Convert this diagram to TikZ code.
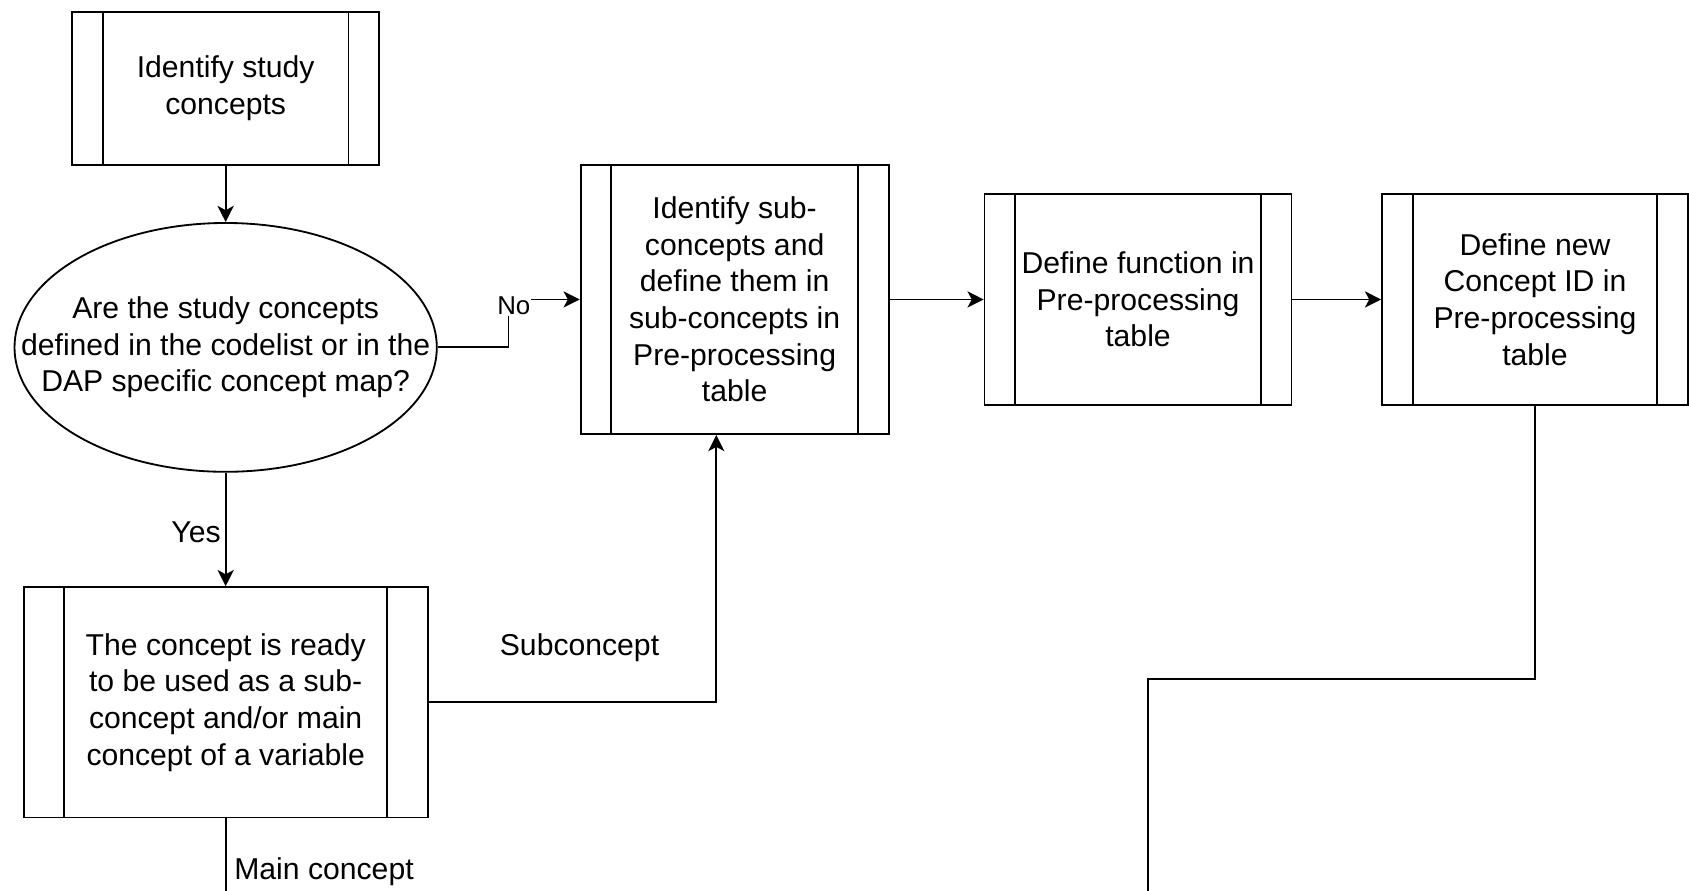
\documentclass[tikz,border=0pt]{standalone}
\usepackage{fontspec}
\setmainfont{Liberation Sans}
\usetikzlibrary{shapes.geometric,arrows.meta,calc}
\begin{document}
\begin{tikzpicture}[x=1pt,y=-1pt,
  every node/.style={font=\fontsize{28}{34}\selectfont},
  ln/.style={line width=1.7pt},
  arr/.style={ln,-{Stealth[length=15pt,width=15pt,inset=4pt]}},
  proc/.style={draw,ln,rectangle,inner sep=0pt,align=center,
    path picture={
      \draw[ln] ($(path picture bounding box.north west)!0.1!(path picture bounding box.north east)$) --
                ($(path picture bounding box.south west)!0.1!(path picture bounding box.south east)$);
      \draw[ln] ($(path picture bounding box.north west)!0.9!(path picture bounding box.north east)$) --
                ($(path picture bounding box.south west)!0.9!(path picture bounding box.south east)$);
    }},
  lbl/.style={inner sep=1pt,fill=white},
  smalllbl/.style={inner sep=1pt,fill=white,font=\fontsize{24}{29}\selectfont}
]
\useasboundingbox (0,0) rectangle (1568,827);

\node[proc,minimum width=285pt,minimum height=142pt] (b1) at (209.5,82) {Identify study\\concepts};
\node[draw,ln,ellipse,minimum width=392pt,minimum height=231pt,inner sep=0pt] (q) at (209.5,322.5) {};
\node[align=center] (qt) at (q.center) {Are the study concepts\\defined in the codelist or in the\\DAP specific concept map?};
\node[proc,minimum width=286pt,minimum height=250pt] (b2) at (682,278) {Identify sub-\\concepts and\\define them in\\sub-concepts in\\Pre-processing\\table};
\node[proc,minimum width=285pt,minimum height=196pt] (b3) at (1056.5,278) {Define function in\\Pre-processing\\table};
\node[proc,minimum width=284pt,minimum height=196pt] (b4) at (1425,278) {Define new\\Concept ID in\\Pre-processing\\table};
\node[proc,minimum width=375pt,minimum height=214pt] (b5) at (209.5,652) {The concept is ready\\to be used as a sub-\\concept and/or main\\concept of a variable};

\coordinate (mEnd) at (209.5,840);
\coordinate (c1) at (1425,630);
\coordinate (c2) at (1066,630);
\coordinate (c3) at (1066,840);

\draw[arr] (b1.south) -- (q.north);
\draw[arr] (q.east) -- (472,322.5) |- (b2.west);
\node[smalllbl] (no) at (477,284) {No};
\draw[arr] (q.south) -- (b5.north);
\node[lbl] (yes) at (182,494) {Yes};
\draw[arr] (b2.east) -- (b3.west);
\draw[arr] (b3.east) -- (b4.west);
\draw[arr] (b5.east) -| ([xshift=-17pt]b2.south);
\node (sub) at (538,601) {Subconcept};
\draw[ln] (b5.south) -- (mEnd);
\node[anchor=west] (main) at (214,809) {Main concept};
\draw[ln] (b4.south) -- (c1) -- (c2) -- (c3);
\end{tikzpicture}
\end{document}
